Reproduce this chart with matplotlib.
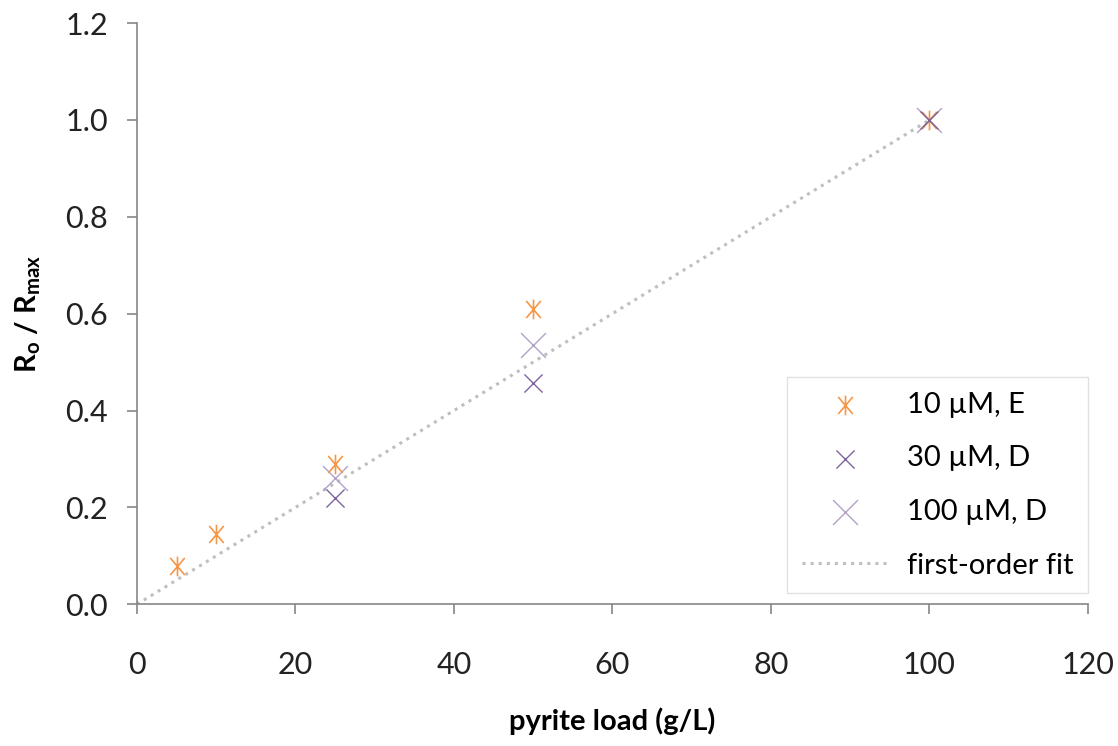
import numpy as np
import matplotlib
matplotlib.use("Agg")
import matplotlib.pyplot as plt
from matplotlib.path import Path

plt.rcParams["font.family"] = ["Lato", "DejaVu Sans"]

# data
load_10 = [5, 10, 25, 50, 100]
ratio_10 = [0.079, 0.145, 0.289, 0.609, 1.0]

load_30 = [25, 50, 100]
ratio_30 = [0.219, 0.457, 1.0]

load_100 = [25, 50, 100]
ratio_100 = [0.26, 0.535, 1.0]

fit_x = [0, 100]
fit_slope = 0.01

x_ticks = [0, 20, 40, 60, 80, 100, 120]
y_ticks = [0.0, 0.2, 0.4, 0.6, 0.8, 1.0, 1.2]

# Excel style star: an x with a vertical bar through it
star = Path(
    [(-0.85, -1), (0.85, 1), (-0.85, 1), (0.85, -1), (0, -1.15), (0, 1.15)],
    [Path.MOVETO, Path.LINETO, Path.MOVETO, Path.LINETO, Path.MOVETO, Path.LINETO],
)

fig = plt.figure(figsize=(11.18, 7.46), dpi=100)
ax = fig.add_axes([0.1225, 0.19, 0.8505, 0.779])

fx = np.array(fit_x)
ax.plot(fx, fit_slope * fx, ":", color="#BFBFBF", lw=2.2, label="first-order fit", zorder=1)

ax.scatter(load_10, ratio_10, marker=star, s=200, color="#F79646", lw=1.2,
           label="10 \u00b5M, E", zorder=3)
ax.scatter(load_30, ratio_30, marker="x", s=170, color="#8064A2", lw=1.0,
           label="30 \u00b5M, D", zorder=3)
ax.scatter(load_100, ratio_100, marker="x", s=320, color="#B3A2C7", lw=1.0,
           label="100 \u00b5M, D", zorder=2)

ax.set_xlim(0, 120)
ax.set_ylim(0, 1.2)
ax.set_xticks(x_ticks)
ax.set_yticks(y_ticks)
ax.set_yticklabels([f"{v:.1f}" for v in y_ticks])

for s in ["top", "right"]:
    ax.spines[s].set_visible(False)
for s in ["left", "bottom"]:
    ax.spines[s].set_color("#868686")
    ax.spines[s].set_linewidth(1.2)
ax.tick_params(direction="out", length=7, width=1.2, color="#868686",
               labelsize=22, labelcolor="#222222")
ax.tick_params(axis="x", pad=27)
ax.tick_params(axis="y", pad=14)

ax.set_xlabel("pyrite load (g/L)", fontsize=21, fontweight="bold", labelpad=20)
ax.set_ylabel("R$_\\mathregular{o}$ / R$_\\mathregular{max}$", fontsize=21,
              fontweight="bold", labelpad=16)

handles, labels = ax.get_legend_handles_labels()
order = [1, 2, 3, 0]
leg = ax.legend([handles[i] for i in order], [labels[i] for i in order],
                loc="lower right", bbox_to_anchor=(1.0, 0.019), fontsize=21,
                frameon=True, fancybox=False, edgecolor="#D9D9D9",
                borderpad=0.5, labelspacing=0.95, handlelength=3.0,
                handletextpad=0.6, borderaxespad=0)
leg.get_frame().set_linewidth(1.0)

fig.savefig("out.png", dpi=100)
